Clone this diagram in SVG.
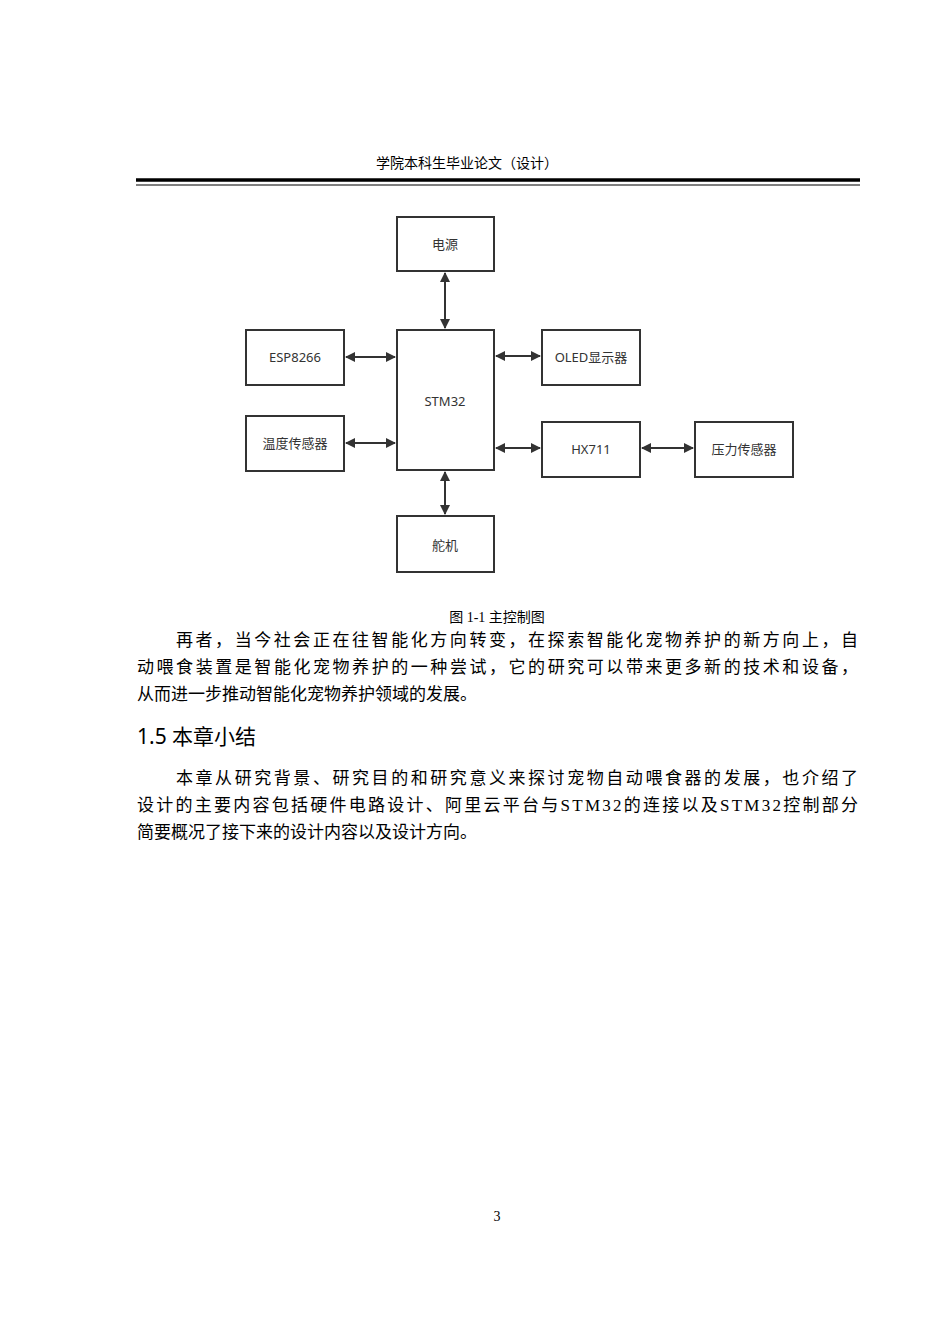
<svg xmlns="http://www.w3.org/2000/svg" width="950" height="1344" viewBox="0 0 950 1344">
<style>
.b{fill:#fff;stroke:#333;stroke-width:2}
.l{font-family:"Noto Sans","Noto Sans CJK SC",sans-serif;font-size:13px;fill:#333;text-anchor:middle}
.c{stroke:#333;stroke-width:2;fill:none;marker-start:url(#a);marker-end:url(#a)}
.t{font-family:"Liberation Serif","Noto Sans CJK SC",serif;font-size:17px;fill:#000}
</style>
<defs><marker id="a" viewBox="0 0 10 10" refX="9" refY="5" markerWidth="5" markerHeight="5" orient="auto-start-reverse" markerUnits="strokeWidth"><path d="M0,0L10,5L0,10z" fill="#333"/></marker></defs>
<rect width="950" height="1344" fill="#fff"/>
<text x="467" y="168" font-family="Liberation Serif,'Noto Sans CJK SC',serif" font-size="14" text-anchor="middle">学院本科生毕业论文（设计）</text>
<line x1="136" y1="180" x2="860" y2="180" stroke="#000" stroke-width="3.5"/>
<line x1="136" y1="185" x2="860" y2="185" stroke="#000" stroke-width="1"/>
<g id="connectors">
<line class="c" x1="445" y1="273" x2="445" y2="328"/>
<line class="c" x1="445" y1="472" x2="445" y2="514"/>
<line class="c" x1="346" y1="357" x2="395" y2="357"/>
<line class="c" x1="346" y1="443" x2="395" y2="443"/>
<line class="c" x1="496" y1="356" x2="540" y2="356"/>
<line class="c" x1="496" y1="448" x2="540" y2="448"/>
<line class="c" x1="642" y1="448" x2="693" y2="448"/>
</g>
<g id="power"><rect class="b" x="397" y="217" width="97" height="54"/><text class="l" x="445" y="249">电源</text></g>
<g id="stm32"><rect class="b" x="397" y="330" width="97" height="140"/><text class="l" x="445" y="406">STM32</text></g>
<g id="esp"><rect class="b" x="246" y="330" width="98" height="55"/><text class="l" x="295" y="362">ESP8266</text></g>
<g id="temp"><rect class="b" x="246" y="416" width="98" height="55"/><text class="l" x="295" y="448">温度传感器</text></g>
<g id="oled"><rect class="b" x="542" y="330" width="98" height="55"/><text class="l" x="591" y="362">OLED显示器</text></g>
<g id="hx"><rect class="b" x="542" y="422" width="98" height="55"/><text class="l" x="591" y="454">HX711</text></g>
<g id="press"><rect class="b" x="695" y="422" width="98" height="55"/><text class="l" x="744" y="454">压力传感器</text></g>
<g id="servo"><rect class="b" x="397" y="516" width="97" height="56"/><text class="l" x="445" y="550">舵机</text></g>
<text x="497" y="622" font-family="Liberation Serif,'Noto Sans CJK SC',serif" font-size="14" text-anchor="middle">图 1-1  主控制图</text>
<text class="t" x="176" y="646" textLength="682" lengthAdjust="spacing">再者，当今社会正在往智能化方向转变，在探索智能化宠物养护的新方向上，自</text>
<text class="t" x="137" y="673" textLength="721" lengthAdjust="spacing">动喂食装置是智能化宠物养护的一种尝试，它的研究可以带来更多新的技术和设备，</text>
<text class="t" x="137" y="700">从而进一步推动智能化宠物养护领域的发展。</text>
<text x="137" y="744" font-family="'Noto Sans','Noto Sans CJK SC',sans-serif" font-size="21">1.5  本章小结</text>
<text class="t" x="176" y="784" textLength="682" lengthAdjust="spacing">本章从研究背景、研究目的和研究意义来探讨宠物自动喂食器的发展，也介绍了</text>
<text class="t" x="137" y="811" textLength="721" lengthAdjust="spacing">设计的主要内容包括硬件电路设计、阿里云平台与STM32的连接以及STM32控制部分</text>
<text class="t" x="137" y="838">简要概况了接下来的设计内容以及设计方向。</text>
<text x="497" y="1221" font-family="Liberation Serif,serif" font-size="14" text-anchor="middle">3</text>
</svg>
